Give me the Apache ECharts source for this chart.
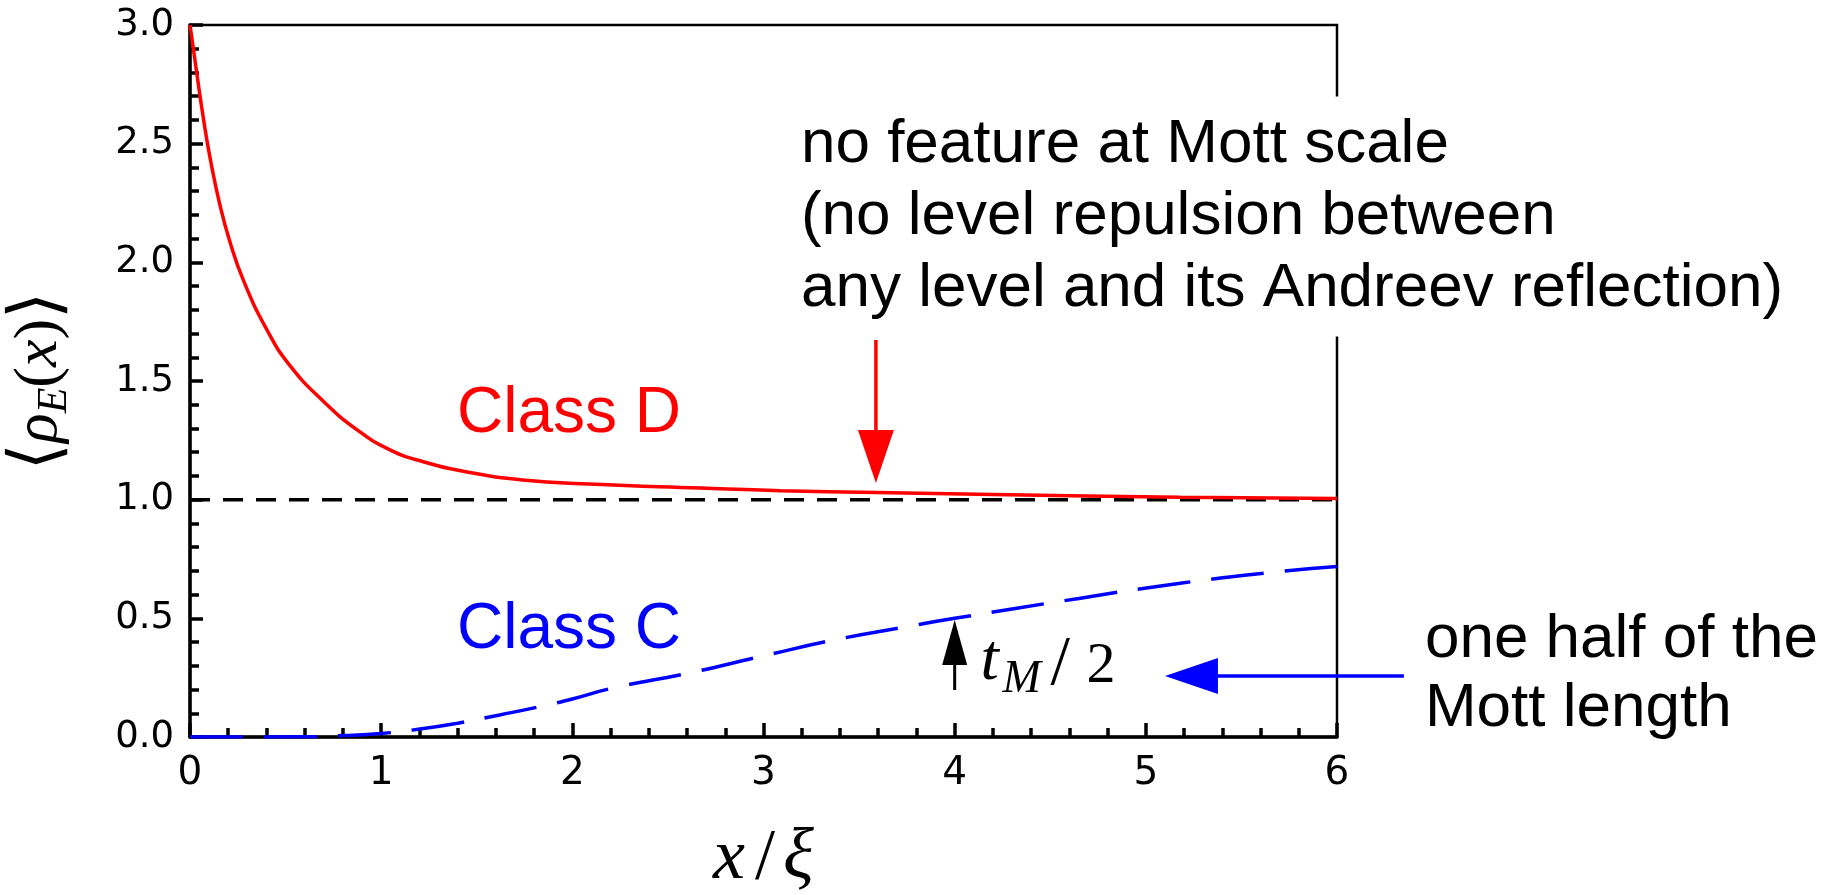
<!DOCTYPE html>
<html>
<head>
<meta charset="utf-8">
<script src="https://cdn.jsdelivr.net/npm/echarts@6/dist/echarts.min.js"></script>
<style>
  html, body { margin: 0; padding: 0; background: #fff; }
  #chart { width: 1845px; height: 895px; }
</style>
</head>
<body>
<div id="chart"></div>
<script>
// values
const xTickLabels = ["0", "1", "2", "3", "4", "5", "6"];
const yTickLabels = ["0.0", "0.5", "1.0", "1.5", "2.0", "2.5", "3.0"];

const classDX = [0, 0.035, 0.07, 0.105, 0.157, 0.209, 0.279, 0.4, 0.523, 0.7, 0.876, 1.046, 1.22, 1.48, 1.74, 2.09, 2.67, 3.09, 3.59, 4.2, 5.18, 6.0];
const classDY = [3.0, 2.8, 2.607, 2.44, 2.24, 2.086, 1.925, 1.719, 1.565, 1.413, 1.293, 1.21, 1.16, 1.112, 1.083, 1.066, 1.049, 1.038, 1.03, 1.022, 1.01, 1.005];

const classCX = [0, 0.6, 0.8, 1.0, 1.17, 1.4, 1.62, 1.83, 2.0, 2.21, 2.6, 2.98, 3.37, 3.75, 4.0, 4.65, 5.18, 5.7, 6.0];
const classCY = [0, 0.001, 0.006, 0.015, 0.03, 0.058, 0.093, 0.128, 0.16, 0.206, 0.268, 0.338, 0.409, 0.465, 0.5, 0.584, 0.648, 0.697, 0.718];

const refX = [0, 6];
const refY = [1, 1];

const noteMott = "no feature at Mott scale\n(no level repulsion between\nany level and its Andreev reflection)";
const noteHalf = "one half of the\nMott length";

const sans = '"Liberation Sans", Arial, sans-serif';
const serif = '"Liberation Serif", "DejaVu Serif", serif';

const zip = (xs, ys) => xs.map((x, i) => [x, ys[i]]);

const chart = echarts.init(document.getElementById("chart"));

const tickStyle = { color: "#000", width: 3.5 };

chart.setOption({
  animation: false,
  grid: {
    left: 190, top: 25, width: 1147, height: 712,
    outerBoundsMode: "none",
    show: true, borderColor: "#000", borderWidth: 2.5, backgroundColor: "transparent",
  },
  xAxis: {
    type: "value", min: 0, max: 6, interval: 1,
    axisLine: { lineStyle: { color: "#000", width: 3.5 } },
    axisTick: { inside: true, length: 14, lineStyle: tickStyle },
    minorTick: { show: true, splitNumber: 5, length: 9, lineStyle: tickStyle },
    splitLine: { show: false },
    axisLabel: {
      margin: 17, color: "#000", fontFamily: "DejaVu Sans", fontSize: 39,
      formatter: (v) => xTickLabels[Math.round(v)],
    },
    name: "{i|x}{u|/}{i|ξ}",
    nameLocation: "middle",
    nameGap: 86,
    nameTextStyle: {
      rich: {
        i: { fontFamily: serif, fontStyle: "italic", fontSize: 72, color: "#000" },
        u: { fontFamily: serif, fontSize: 72, padding: [0, 8, 0, 10], color: "#000" },
      },
    },
  },
  yAxis: {
    type: "value", min: 0, max: 3, interval: 0.5,
    axisLine: { lineStyle: { color: "#000", width: 3.5 } },
    axisTick: { inside: true, length: 13, lineStyle: tickStyle },
    minorTick: { show: true, splitNumber: 5, length: 9, lineStyle: tickStyle },
    splitLine: { show: false },
    axisLabel: {
      margin: 16, color: "#000", fontFamily: "DejaVu Sans", fontSize: 37,
      formatter: (v) => yTickLabels[Math.round(v * 2)],
    },
    name: "{b|⟨}{i|ρ}{s|E}{u|(}{i|x}{u|)}{b|⟩}",
    nameLocation: "middle",
    nameRotate: 90,
    nameGap: 114,
    nameTextStyle: {
      rich: {
        b: { fontFamily: serif, fontSize: 70, lineHeight: 72, verticalAlign: "middle", color: "#000" },
        i: { fontFamily: serif, fontStyle: "italic", fontSize: 62, lineHeight: 72, verticalAlign: "middle", color: "#000" },
        u: { fontFamily: serif, fontSize: 62, lineHeight: 72, verticalAlign: "middle", color: "#000" },
        s: { fontFamily: serif, fontStyle: "italic", fontSize: 42, lineHeight: 42, verticalAlign: "bottom", color: "#000" },
      },
    },
  },
  series: [
    {
      name: "level", type: "line", data: zip(refX, refY), symbol: "none",
      lineStyle: { color: "#000", width: 3.5, type: [20, 13] }, z: 2,
    },
    {
      name: "Class D", type: "line", data: zip(classDX, classDY), symbol: "none",
      smooth: 0.5,
      lineStyle: { color: "#ff0000", width: 3.5 }, z: 3,
    },
    {
      name: "Class C", type: "line", data: zip(classCX, classCY), symbol: "none",
      smooth: 0.5,
      lineStyle: { color: "#0000ff", width: 3.5, type: [53, 21] }, z: 3,
    },
  ],
});

// annotations, anchored in data coordinates
const px = (x, y) => chart.convertToPixel({ gridIndex: 0 }, [x, y]);

function arrow(from, to, color, headLen, headW, width) {
  const a = px(from[0], from[1]);
  const b = px(to[0], to[1]);
  const dx = b[0] - a[0], dy = b[1] - a[1];
  const len = Math.hypot(dx, dy);
  const ux = dx / len, uy = dy / len;
  const bx = b[0] - ux * headLen, by = b[1] - uy * headLen;
  const nx = -uy * headW / 2, ny = ux * headW / 2;
  return [
    { type: "line", z: 110, shape: { x1: a[0], y1: a[1], x2: bx, y2: by }, style: { stroke: color, lineWidth: width } },
    { type: "polygon", z: 110, shape: { points: [[b[0], b[1]], [bx + nx, by + ny], [bx - nx, by - ny]] }, style: { fill: color } },
  ];
}

function label(pos, text, opts) {
  const p = px(pos[0], pos[1]);
  return {
    type: "text", z: 105, x: p[0], y: p[1],
    style: Object.assign({ text, align: "left", verticalAlign: "middle", fill: "#000" }, opts),
  };
}

const tAnchor = px(4.135, 0.2276);
const mathFont = (size, italic) => `${italic ? "italic " : ""}${size}px ${serif}`;
const mathPiece = (text, dx, dy, size, italic) => ({
  type: "text", z: 105, x: tAnchor[0] + dx, y: tAnchor[1] + dy,
  style: { text, font: mathFont(size, italic), fill: "#000", align: "left", verticalAlign: "bottom" },
});

chart.setOption({
  graphic: [
    label([3.175, 2.193], noteMott, {
      font: `62px ${sans}`, lineHeight: 72, backgroundColor: "#fff", padding: [10, 6, 14, 4],
    }),
    label([6.46, 0.2625], noteHalf, { font: `62px ${sans}`, lineHeight: 69 }),
    label([1.397, 1.359], "Class D", { font: `64px ${sans}`, fill: "#ff0000" }),
    label([1.397, 0.449], "Class C", { font: `64px ${sans}`, fill: "#0000ff" }),
    ...arrow([3.588, 1.673], [3.588, 1.07], "#ff0000", 53, 36, 3.5),
    ...arrow([4.0, 0.198], [4.0, 0.493], "#000", 45, 25, 3),
    ...arrow([6.35, 0.257], [5.1, 0.257], "#0000ff", 53, 36, 3.5),
    mathPiece("t", 0, 12, 66, true),
    mathPiece("M", 22, 20, 46, true),
    mathPiece("/", 70, 18, 70, false),
    mathPiece("2", 106, 13, 58, false),
  ],
});
</script>
</body>
</html>
